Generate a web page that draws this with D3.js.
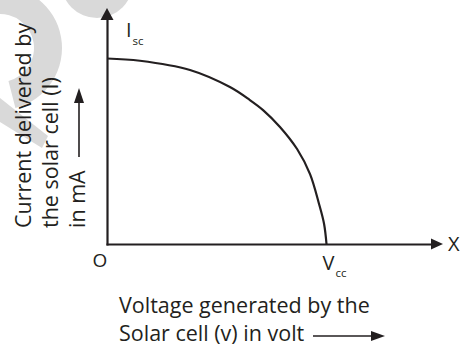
<!DOCTYPE html>
<html>
<head>
<meta charset="utf-8">
<script src="https://cdn.jsdelivr.net/npm/d3@7"></script>
<style>
  html, body { margin: 0; padding: 0; background: #fff; }
  svg { display: block; }
  text { font-family: "Open Sans", "Noto Sans", sans-serif; fill: #231f20; }
</style>
</head>
<body>
<svg id="chart" width="460" height="348"></svg>
<script>
// I–V characteristic of a solar cell (voltage in units of V_oc, current in units of I_sc)
const voltage = [0, 0.15, 0.378, 0.56, 0.651, 0.711, 0.788, 0.866, 0.925, 0.966, 0.989, 1];
const current = [1, 0.988, 0.938, 0.846, 0.776, 0.722, 0.631, 0.512, 0.377, 0.216, 0.108, 0];

const yLabelLines = ["Current delivered by", "the solar cell (I)", "in mA"];
const xLabelLines = ["Voltage generated by the", "Solar cell (v) in volt"];

const ink = "#231f20";
const labelSize = 21.5;
const svg = d3.select("#chart");

// light background mark in the upper-left corner
const wm = svg.append("g").attr("fill", "#d9d9d9");
wm.append("circle").attr("cx", 97).attr("cy", -18).attr("r", 36);
wm.append("path").attr("d", d3.arc()
  .innerRadius(34).outerRadius(62)
  .startAngle(-0.1).endAngle(Math.PI * 0.92)()).attr("transform", "translate(0,48)");
wm.append("path").attr("d", "M0,98 L0,122 L42,148 L48,136 Z");

// scales: V = 0..V_oc, I = 0..I_sc
const x = d3.scaleLinear().domain([0, 1]).range([107, 326.5]);
const y = d3.scaleLinear().domain([0, 1]).range([244, 58.5]);

const xEnd = x.invert(433), yEnd = y.invert(19);

// axes drawn as bare lines (no ticks), extended past the data range
const xAxisScale = x.copy().domain([0, xEnd]).range([x(0) - 1, x(xEnd)]);
const yAxisScale = y.copy().domain([0, yEnd]).range([y(0) + 1, y(yEnd)]);

svg.append("g").attr("transform", `translate(0,${y(0)})`)
  .call(d3.axisBottom(xAxisScale).tickValues([]).tickSizeOuter(0));
svg.append("g").attr("transform", `translate(${x(0)},0)`)
  .call(d3.axisLeft(yAxisScale).tickValues([]).tickSizeOuter(0));
svg.selectAll(".domain").attr("stroke", ink).attr("stroke-width", 2.2);

// arrowheads on the axes
svg.append("path").attr("fill", ink)
  .attr("d", `M${x(xEnd) - 2},${y(0) - 5.5} L${x(xEnd) + 10},${y(0)} L${x(xEnd) - 2},${y(0) + 5.5} Z`);
svg.append("path").attr("fill", ink)
  .attr("d", `M${x(0) - 6.5},${y(yEnd) + 1} L${x(0)},${y(yEnd) - 11} L${x(0) + 6.5},${y(yEnd) + 1} Z`);

// the I–V curve
const line = d3.line()
  .x((d, i) => x(voltage[i]))
  .y((d, i) => y(current[i]))
  .curve(d3.curveCatmullRom.alpha(0.5));
svg.append("path").datum(current)
  .attr("fill", "none").attr("stroke", ink).attr("stroke-width", 2.2)
  .attr("d", line);

// point labels
const isc = svg.append("text").attr("x", x(0) + 19).attr("y", 37).attr("font-size", 20);
isc.append("tspan").text("I");
isc.append("tspan").attr("font-size", 11.5).attr("dy", 8).attr("dx", 1).text("sc");

const vcc = svg.append("text").attr("x", x(1) - 4).attr("y", 270).attr("font-size", 20);
vcc.append("tspan").text("V");
vcc.append("tspan").attr("font-size", 11.5).attr("dy", 7).attr("dx", 1).text("cc");

svg.append("text").attr("x", 100).attr("y", 267).attr("text-anchor", "middle")
  .attr("font-size", 19).text("O");
svg.append("text").attr("x", 448).attr("y", 251).attr("font-size", 20).text("X");

// x-axis title
const xt = svg.append("g");
xLabelLines.forEach((s, i) => {
  xt.append("text").attr("x", 119).attr("y", 313 + i * 28).attr("font-size", labelSize).text(s);
});
svg.append("line").attr("x1", 313).attr("x2", 373).attr("y1", 336).attr("y2", 336)
  .attr("stroke", ink).attr("stroke-width", 1.6);
svg.append("path").attr("fill", ink).attr("d", "M371,331 L385,336 L371,341 Z");

// y-axis title, rotated
const yt = svg.append("g").attr("transform", "translate(0,228) rotate(-90)");
yLabelLines.forEach((s, i) => {
  yt.append("text").attr("x", 0).attr("y", 31 + i * 27).attr("font-size", labelSize).text(s);
});
svg.append("line").attr("x1", 79).attr("x2", 79).attr("y1", 157).attr("y2", 100)
  .attr("stroke", ink).attr("stroke-width", 1.6);
svg.append("path").attr("fill", ink).attr("d", "M74,103 L79,88 L84,103 Z");
</script>
</body>
</html>
